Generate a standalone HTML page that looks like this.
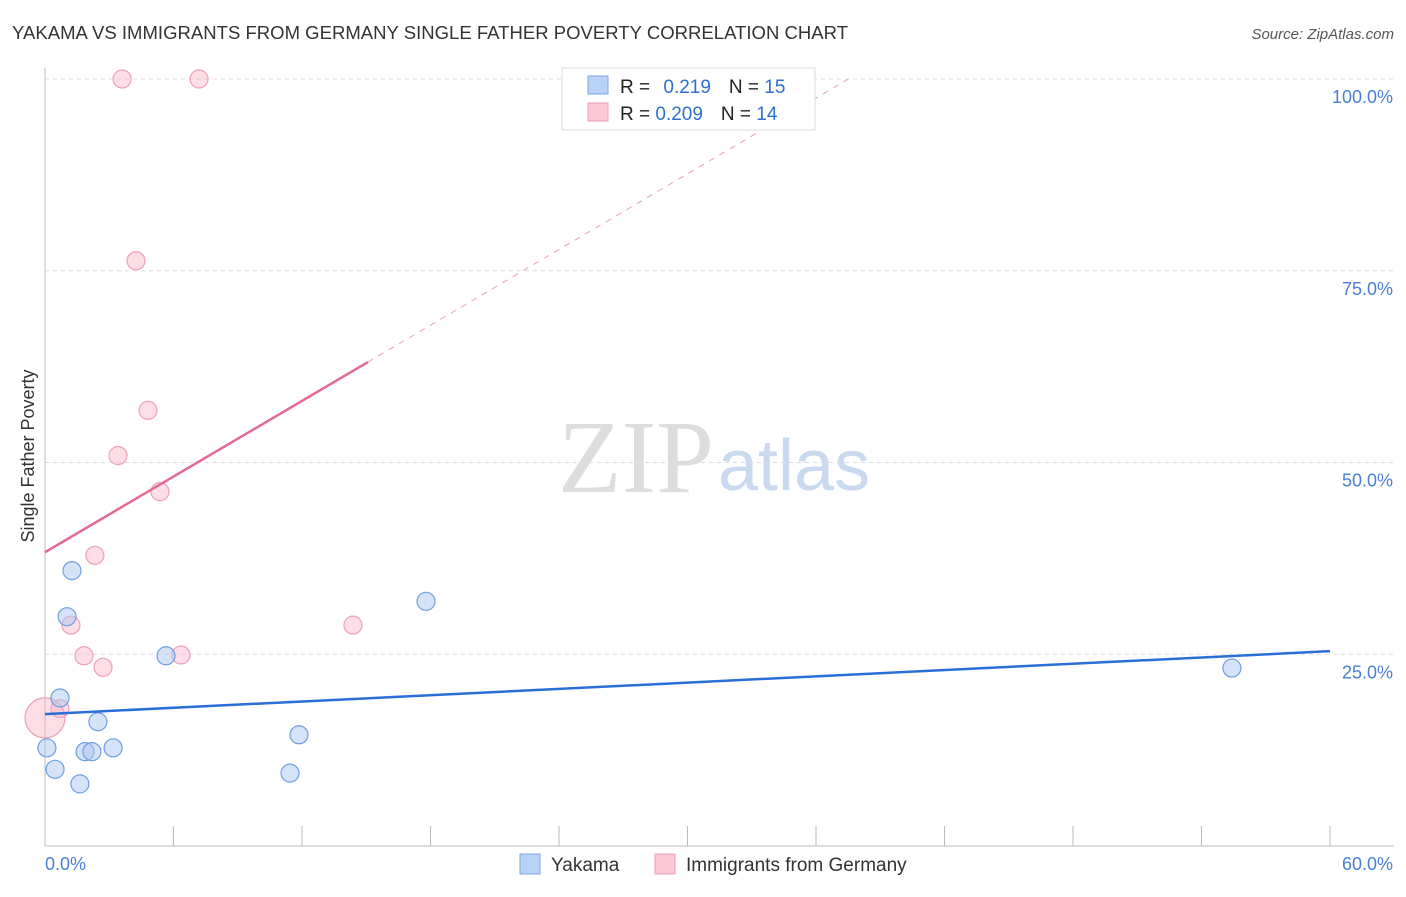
<!DOCTYPE html>
<html><head><meta charset="utf-8"><style>
body{margin:0;background:#fff;font-family:"Liberation Sans",sans-serif;}
</style></head><body>
<svg width="1406" height="892" xmlns="http://www.w3.org/2000/svg" id="c">
<text x="12" y="39" font-size="18.5" fill="#333" textLength="836">YAKAMA VS IMMIGRANTS FROM GERMANY SINGLE FATHER POVERTY CORRELATION CHART</text>
<text x="1394" y="39" font-size="15" fill="#555" text-anchor="end" font-style="italic">Source: ZipAtlas.com</text>
<text x="714" y="492" font-size="104" text-anchor="end" fill="#ddd" font-family="Liberation Serif">ZIP</text>
<text x="718" y="490" font-size="72" fill="#c9d9ef">atlas</text>
<text transform="translate(34,456) rotate(-90)" font-size="18" fill="#333" text-anchor="middle">Single Father Poverty</text>
<g id="grid"></g><g id="pts"></g><g id="lines"></g>
<g>
<rect x="562" y="68" width="253" height="62" fill="#fff" stroke="#ddd"/>
<rect x="588" y="76" width="20" height="18" fill="#b8d3f5" stroke="#7aa6e0"/>
<rect x="588" y="103" width="20" height="18" fill="#fcc8d6" stroke="#ee9db5"/>
<text x="620" y="93" font-size="19" fill="#222">R = <tspan fill="#2e6fd1" dx="8">0.219</tspan><tspan dx="18">N = </tspan><tspan fill="#2e6fd1">15</tspan></text>
<text x="620" y="120" font-size="19" fill="#222">R = <tspan fill="#2e6fd1">0.209</tspan><tspan dx="18">N = </tspan><tspan fill="#2e6fd1">14</tspan></text>
</g>
<g>
<rect x="520" y="854" width="20" height="20" fill="#b8d3f5" stroke="#7aa6e0"/>
<text x="551" y="871" font-size="19" fill="#333">Yakama</text>
<rect x="655" y="854" width="20" height="20" fill="#fcc8d6" stroke="#ee9db5"/>
<text x="686" y="871" font-size="19" fill="#333">Immigrants from Germany</text>
</g>
</svg>
<script>
const yTicks=[25,50,75,100];
const yTickLabels=["25.0%","50.0%","75.0%","100.0%"];
const xTicks=[0,6,12,18,24,30,36,42,48,54,60];
const blueX=[0.09,0.47,0.70,1.03,1.26,1.63,1.87,2.19,2.47,3.18,5.65,11.44,11.86,17.79,55.42];
const blueY=[12.8,10.0,19.3,29.9,35.9,8.1,12.3,12.3,16.2,12.8,24.8,9.5,14.5,31.9,23.2];
const pinkX=[3.6,7.19,4.25,4.81,3.41,5.37,2.33,1.21,1.82,2.71,6.35,14.38,0.70,0];
const pinkY=[100,100,76.3,56.8,50.9,46.2,37.9,28.8,24.8,23.3,24.9,28.8,17.9,16.7];
const blueTrend=[17.2,25.4];
const pinkTrend=[38.3,63.1,15.08];
const NS="http://www.w3.org/2000/svg";
const X=v=>45+v/60*1285, Y=v=>846-v/100*767;
function mk(t,a,p){const e=document.createElementNS(NS,t);for(const k in a)e.setAttribute(k,a[k]);document.getElementById(p).appendChild(e);return e;}
yTicks.forEach((t,i)=>{
 const g=mk('line',{x1:45,x2:1394,y1:Y(t),y2:Y(t),stroke:'#ddd','stroke-dasharray':'4,4'},'grid');
 
 
 const l=mk('text',{x:1393,y:Y(t)+24,'font-size':18,fill:'#4a7fd4','text-anchor':'end'},'grid');l.textContent=yTickLabels[i];
 
 
});
mk('line',{x1:45,x2:45,y1:68,y2:846,stroke:'#bbb'},'grid');
mk('line',{x1:45,x2:1394,y1:846,y2:846,stroke:'#bbb'},'grid');
xTicks.forEach(t=>{const e=mk('line',{x1:X(t),x2:X(t),y1:826,y2:846,stroke:'#bbb'},'grid');
 
 });
const x0=mk('text',{x:45,y:870,'font-size':18,fill:'#4a7fd4'},'grid');x0.textContent='0.0%';


const x1=mk('text',{x:1393,y:870,'font-size':18,fill:'#4a7fd4','text-anchor':'end'},'grid');x1.textContent='60.0%';


pinkX.forEach((v,i)=>{const e=mk('circle',{cx:X(v),cy:Y(pinkY[i]),r:(i==pinkX.length-1?20:9),fill:'rgba(250,180,200,0.45)',stroke:'#eea0b8','stroke-width':1.2},'pts');
 
 });
blueX.forEach((v,i)=>{const e=mk('circle',{cx:X(v),cy:Y(blueY[i]),r:9,fill:'rgba(170,200,240,0.5)',stroke:'#6f9fe0','stroke-width':1.2},'pts');
 
 });
const bl=mk('line',{x1:X(0),y1:Y(blueTrend[0]),x2:X(60),y2:Y(blueTrend[1]),stroke:'#2a6fd6','stroke-width':2.5},'lines');


const slope=(pinkTrend[1]-pinkTrend[0])/pinkTrend[2];
const xEnd=(100-pinkTrend[0])/slope;
const pd=mk('line',{x1:X(pinkTrend[2]),y1:Y(pinkTrend[1]),x2:X(xEnd),y2:Y(100),stroke:'#e8a0b6','stroke-width':1,'stroke-dasharray':'6,6'},'lines');


const pl=mk('line',{x1:X(0),y1:Y(pinkTrend[0]),x2:X(pinkTrend[2]),y2:Y(pinkTrend[1]),stroke:'#e46a92','stroke-width':2.5},'lines');


</script>
</body></html>
